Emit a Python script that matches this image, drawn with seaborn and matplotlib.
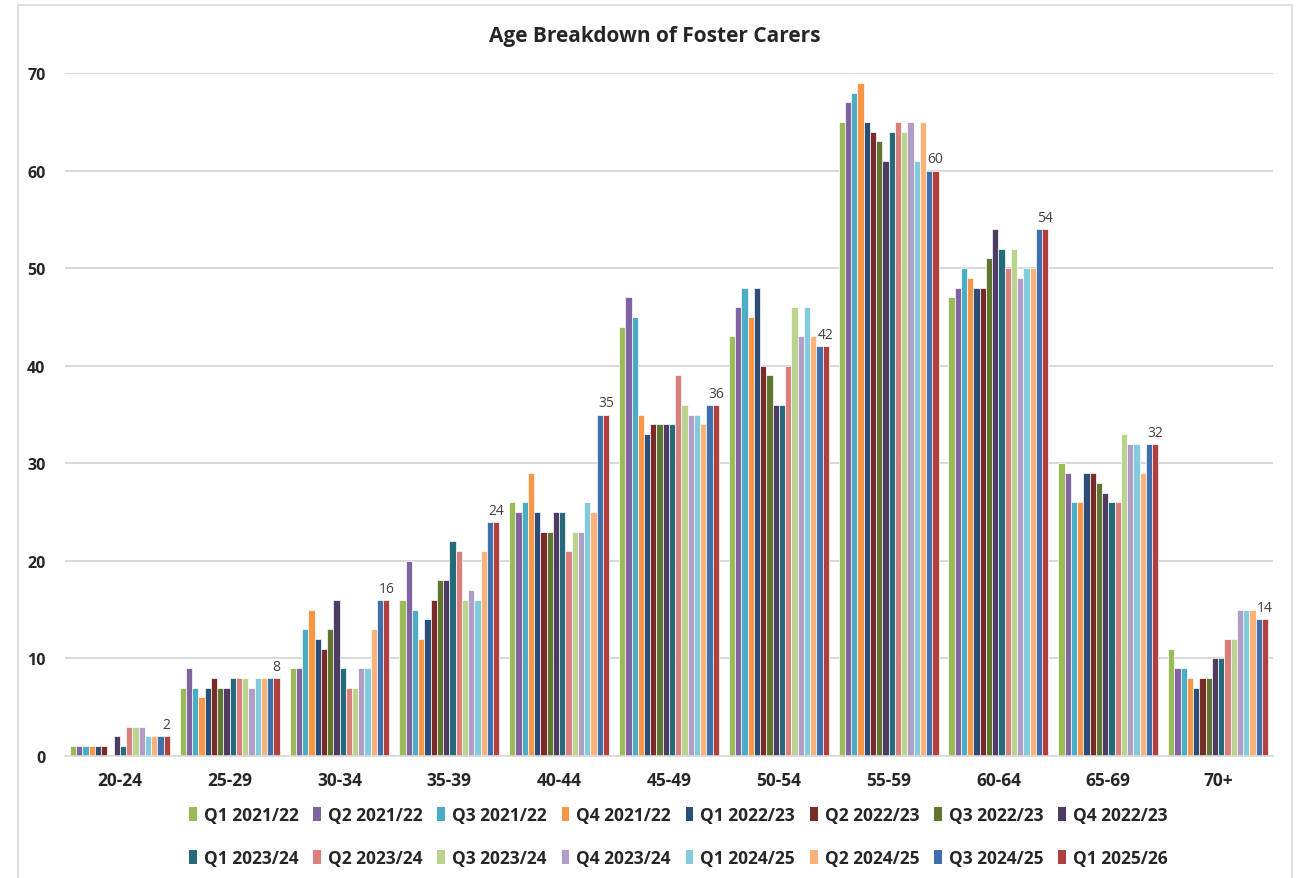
import pandas as pd
import numpy as np
import seaborn as sns
import matplotlib.pyplot as plt
from matplotlib.patches import Rectangle, Patch

# Age bands on the x axis
age_groups = ['20-24', '25-29', '30-34', '35-39', '40-44', '45-49',
              '50-54', '55-59', '60-64', '65-69', '70+']

# Quarter series (legend order)
quarters = ['Q1 2021/22', 'Q2 2021/22', 'Q3 2021/22', 'Q4 2021/22',
            'Q1 2022/23', 'Q2 2022/23', 'Q3 2022/23', 'Q4 2022/23',
            'Q1 2023/24', 'Q2 2023/24', 'Q3 2023/24', 'Q4 2023/24',
            'Q1 2024/25', 'Q2 2024/25', 'Q3 2024/25', 'Q1 2025/26']

# Number of carers per quarter, one list per age band
counts_20_24 = [1, 1, 1, 1, 1, 1, 0, 2, 1, 3, 3, 3, 2, 2, 2, 2]
counts_25_29 = [7, 9, 7, 6, 7, 8, 7, 7, 8, 8, 8, 7, 8, 8, 8, 8]
counts_30_34 = [9, 9, 13, 15, 12, 11, 13, 16, 9, 7, 7, 9, 9, 13, 16, 16]
counts_35_39 = [16, 20, 15, 12, 14, 16, 18, 18, 22, 21, 16, 17, 16, 21, 24, 24]
counts_40_44 = [26, 25, 26, 29, 25, 23, 23, 25, 25, 21, 23, 23, 26, 25, 35, 35]
counts_45_49 = [44, 47, 45, 35, 33, 34, 34, 34, 34, 39, 36, 35, 35, 34, 36, 36]
counts_50_54 = [43, 46, 48, 45, 48, 40, 39, 36, 36, 40, 46, 43, 46, 43, 42, 42]
counts_55_59 = [65, 67, 68, 69, 65, 64, 63, 61, 64, 65, 64, 65, 61, 65, 60, 60]
counts_60_64 = [47, 48, 50, 49, 48, 48, 51, 54, 52, 50, 52, 49, 50, 50, 54, 54]
counts_65_69 = [30, 29, 26, 26, 29, 29, 28, 27, 26, 26, 33, 32, 32, 29, 32, 32]
counts_70_plus = [11, 9, 9, 8, 7, 8, 8, 10, 10, 12, 12, 15, 15, 15, 14, 14]

# Excel-style series colours
colours = ['#9BBB59', '#8064A2', '#4BACC6', '#F79646',
           '#2C4D75', '#772C2A', '#5F7530', '#4D3B62',
           '#276A7C', '#D9807D', '#BCD38F', '#B09DC8',
           '#82CBDD', '#F9B27A', '#3F70AD', '#B0403E']

text_col = '#262626'
grid_col = '#D9D9D9'


def build_frame():
    """Long-form table for seaborn"""
    all_counts = [counts_20_24, counts_25_29, counts_30_34, counts_35_39,
                  counts_40_44, counts_45_49, counts_50_54, counts_55_59,
                  counts_60_64, counts_65_69, counts_70_plus]
    rows = []
    for age, vals in zip(age_groups, all_counts):
        for q, v in zip(quarters, vals):
            rows.append({'age': age, 'quarter': q, 'carers': v})
    return pd.DataFrame(rows)


def make_chart(df):
    sns.set_style('white')
    plt.rcParams['font.family'] = ['Open Sans', 'DejaVu Sans']

    fig = plt.figure(figsize=(12.99, 8.79), dpi=100)
    ax = fig.add_axes([0.050, 0.1388, 0.930, 0.777])

    # outer chart border
    fig.patches.append(Rectangle((18 / 1299, -0.05), 1274 / 1299, 1.05 - 6 / 879,
                                 transform=fig.transFigure, fill=False,
                                 edgecolor=grid_col, linewidth=1.2))

    sns.barplot(data=df, x='age', y='carers', hue='quarter', hue_order=quarters,
                order=age_groups, palette=colours, width=0.91, ax=ax,
                edgecolor='white', linewidth=0.5, saturation=1, legend=True)

    # data labels only on the latest quarter
    last = ax.containers[-1]
    ax.bar_label(last, padding=3, fontsize=10, color='#404040')

    ax.set_ylim(0, 70)
    ax.set_yticks(range(0, 71, 10))
    ax.yaxis.grid(True, color=grid_col, linewidth=1.5)
    ax.set_axisbelow(True)
    ax.set_xlim(-0.5, len(age_groups) - 0.5)
    for s in ['top', 'right', 'left']:
        ax.spines[s].set_visible(False)
    ax.spines['bottom'].set_color(grid_col)
    ax.spines['bottom'].set_linewidth(1.2)
    ax.tick_params(axis='y', length=0, labelsize=11.5, colors=text_col, pad=14)
    ax.tick_params(axis='x', length=0, labelsize=12.5, colors=text_col, pad=11)
    for lbl in ax.get_xticklabels() + ax.get_yticklabels():
        lbl.set_fontweight('bold')
    ax.set_xlabel('')
    ax.set_ylabel('')

    fig.text(0.504, 0.958, 'Age Breakdown of Foster Carers', ha='center',
             va='center', fontsize=15, fontweight='bold', color=text_col)

    # legend: two rows of eight, filled row by row
    ax.get_legend().remove()
    handles = [Patch(facecolor=c, edgecolor='none') for c in colours]
    order = []
    for col in range(8):
        order += [col, col + 8]
    fig.legend([handles[i] for i in order], [quarters[i] for i in order],
               ncol=8, loc='center', bbox_to_anchor=(0.522, 0.047),
               frameon=False, prop={'weight': 'bold', 'size': 12.5},
               handlelength=0.45, handleheight=0.85, handletextpad=0.4,
               columnspacing=0.85, labelspacing=1.45)

    plt.savefig('out.png', dpi=100)


if __name__ == '__main__':
    df = build_frame()
    make_chart(df)
